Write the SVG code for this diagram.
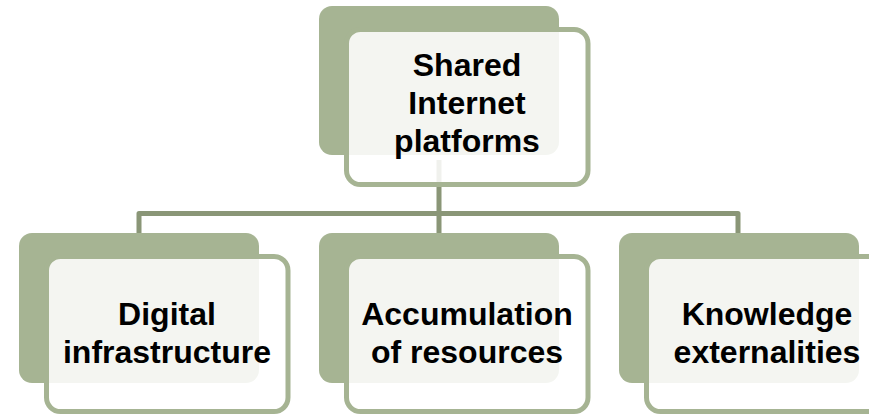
<svg xmlns="http://www.w3.org/2000/svg" width="869" height="414" viewBox="0 0 869 414">
<style>
.back{fill:#a6b493;}
.front{fill:#ffffff;fill-opacity:0.87;stroke:#a6b493;stroke-width:5;}
.conn{fill:none;stroke:#8a9677;stroke-width:5;stroke-linejoin:round;}
.lbl{font-family:"Liberation Sans",Arial,sans-serif;font-weight:bold;font-size:32px;fill:#000;text-anchor:middle;}
</style>
<rect width="869" height="414" fill="#ffffff"/>
<g id="connectors">
<path class="conn" d="M439 160 V237 M139 237 V213.5 H738 V237"/>
</g>
<g id="node-top">
<rect class="back" x="319" y="6" width="240" height="149" rx="13"/>
<rect class="front" x="346.5" y="29.5" width="241.5" height="155" rx="14"/>
<text class="lbl" x="467" y="76">Shared</text>
<text class="lbl" x="467" y="114">Internet</text>
<text class="lbl" x="467" y="152">platforms</text>
</g>
<g id="node-digital">
<rect class="back" x="19" y="233" width="240" height="150" rx="13"/>
<rect class="front" x="46.5" y="256.5" width="241.5" height="155" rx="14"/>
<text class="lbl" x="167" y="325">Digital</text>
<text class="lbl" x="167" y="363">infrastructure</text>
</g>
<g id="node-accumulation">
<rect class="back" x="319" y="233" width="240" height="150" rx="13"/>
<rect class="front" x="346.5" y="256.5" width="241.5" height="155" rx="14"/>
<text class="lbl" x="467" y="325">Accumulation</text>
<text class="lbl" x="467" y="363">of resources</text>
</g>
<g id="node-knowledge">
<rect class="back" x="619" y="233" width="240" height="150" rx="13"/>
<rect class="front" x="646.5" y="256.5" width="241.5" height="155" rx="14"/>
<text class="lbl" x="767" y="325">Knowledge</text>
<text class="lbl" x="767" y="363">externalities</text>
</g>
</svg>
